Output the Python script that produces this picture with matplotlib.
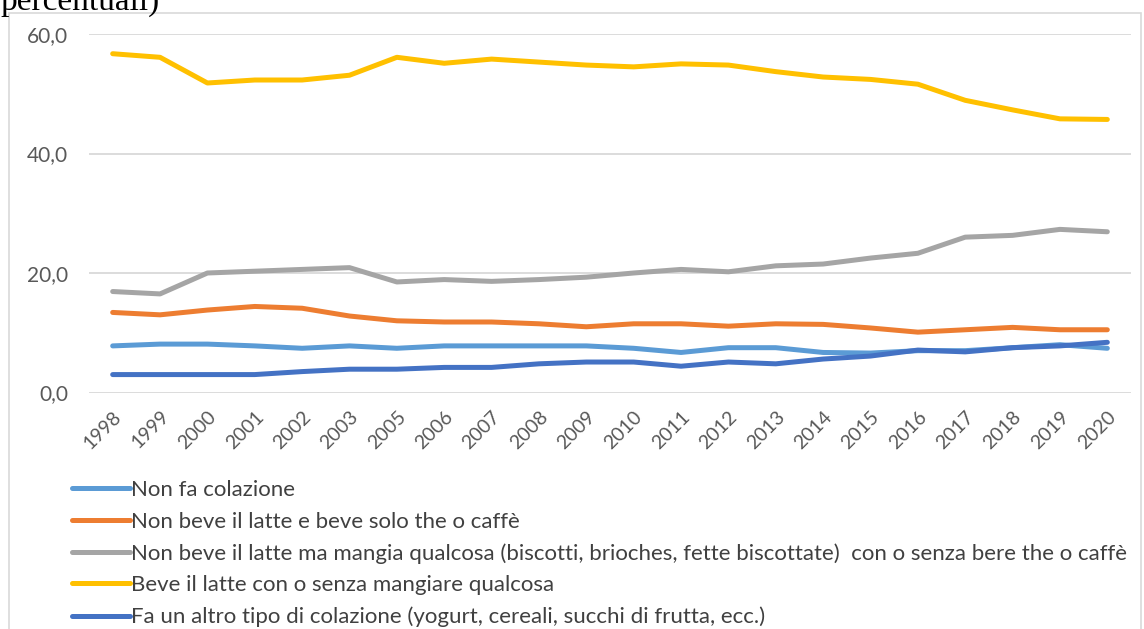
import matplotlib
matplotlib.use("Agg")
import matplotlib.pyplot as plt
from matplotlib.patches import Rectangle

years = ["1998", "1999", "2000", "2001", "2002", "2003", "2005", "2006", "2007", "2008",
         "2009", "2010", "2011", "2012", "2013", "2014", "2015", "2016", "2017", "2018",
         "2019", "2020"]

non_fa = [7.8, 8.1, 8.1, 7.8, 7.4, 7.8, 7.4, 7.8, 7.8, 7.8, 7.8, 7.4, 6.7, 7.5, 7.5,
          6.7, 6.6, 7.0, 7.0, 7.5, 8.0, 7.4]
solo_the = [13.4, 13.0, 13.8, 14.4, 14.1, 12.8, 12.0, 11.8, 11.8, 11.5, 11.0, 11.5, 11.5,
            11.1, 11.5, 11.4, 10.8, 10.1, 10.5, 10.9, 10.5, 10.5]
mangia = [16.9, 16.5, 20.0, 20.3, 20.6, 20.9, 18.5, 18.9, 18.6, 18.9, 19.3, 20.0, 20.6,
          20.2, 21.2, 21.5, 22.5, 23.3, 26.0, 26.3, 27.3, 26.9]
latte = [56.7, 56.1, 51.8, 52.3, 52.3, 53.1, 56.1, 55.1, 55.8, 55.3, 54.8, 54.5, 55.0,
         54.8, 53.7, 52.8, 52.4, 51.6, 48.9, 47.3, 45.8, 45.7]
altro = [3.0, 3.0, 3.0, 3.0, 3.5, 3.9, 3.9, 4.2, 4.2, 4.8, 5.1, 5.1, 4.4, 5.1, 4.8,
         5.6, 6.1, 7.1, 6.8, 7.5, 7.8, 8.4]

labels = [
    "Non fa colazione",
    "Non beve il latte e beve solo the o caffè",
    "Non beve il latte ma mangia qualcosa (biscotti, brioches, fette biscottate)  con o senza bere the o caffè",
    "Beve il latte con o senza mangiare qualcosa",
    "Fa un altro tipo di colazione (yogurt, cereali, succhi di frutta, ecc.)",
]
series = [non_fa, solo_the, mangia, latte, altro]
colors = ["#5B9BD5", "#ED7D31", "#A5A5A5", "#FFC000", "#4472C4"]

W, H = 1144, 629
fig = plt.figure(figsize=(W / 100, H / 100), dpi=100)
plt.rcParams['font.family'] = ['Lato', 'DejaVu Sans']

# outer chart frame
fig.patches.append(Rectangle((9 / W, -0.1), (1141 - 9) / W, 1.1 - 13 / H,
                             transform=fig.transFigure, fill=False,
                             edgecolor="#D9D9D9", linewidth=1.2))

fig.text(0 / W, 1 - 10 / H, "percentuali)", family="Liberation Serif",
         fontsize=24, color="black", ha="left", va="baseline")

left, right = 89 / W, 1131 / W
bottom, top = 1 - 392.5 / H, 1 - 34 / H
ax = fig.add_axes([left, bottom, right - left, top - bottom])

x = list(range(len(years)))
handles = []
for vals, c, lab in zip(series, colors, labels):
    h, = ax.plot(x, vals, color=c, linewidth=3.6, solid_capstyle="round",
                 solid_joinstyle="round", label=lab)
    handles.append(h)

ax.set_xlim(-0.5, len(years) - 0.5)
ax.set_ylim(0, 60)
ax.set_yticks([0, 20, 40, 60])
ax.set_yticklabels(["0,0", "20,0", "40,0", "60,0"])
ax.set_xticks(x)
ax.set_xticklabels(years, rotation=45, ha="right", va="top", rotation_mode="anchor")
for s in ax.spines.values():
    s.set_visible(False)
ax.grid(axis="y", color="#D9D9D9", linewidth=1.3)
ax.set_axisbelow(True)
ax.tick_params(axis="y", length=0, pad=15, labelsize=15, labelcolor="#595959")
ax.tick_params(axis="x", length=0, pad=11, labelsize=14, labelcolor="#595959")

fig.legend(handles, labels, loc="upper left", bbox_to_anchor=(72 / W, 1 - 480 / H),
           frameon=False, fontsize=16, handlelength=2.6, handletextpad=0.05,
           labelspacing=0.52, borderpad=0, borderaxespad=0, labelcolor="#404040")

fig.savefig("out.png", dpi=100)
